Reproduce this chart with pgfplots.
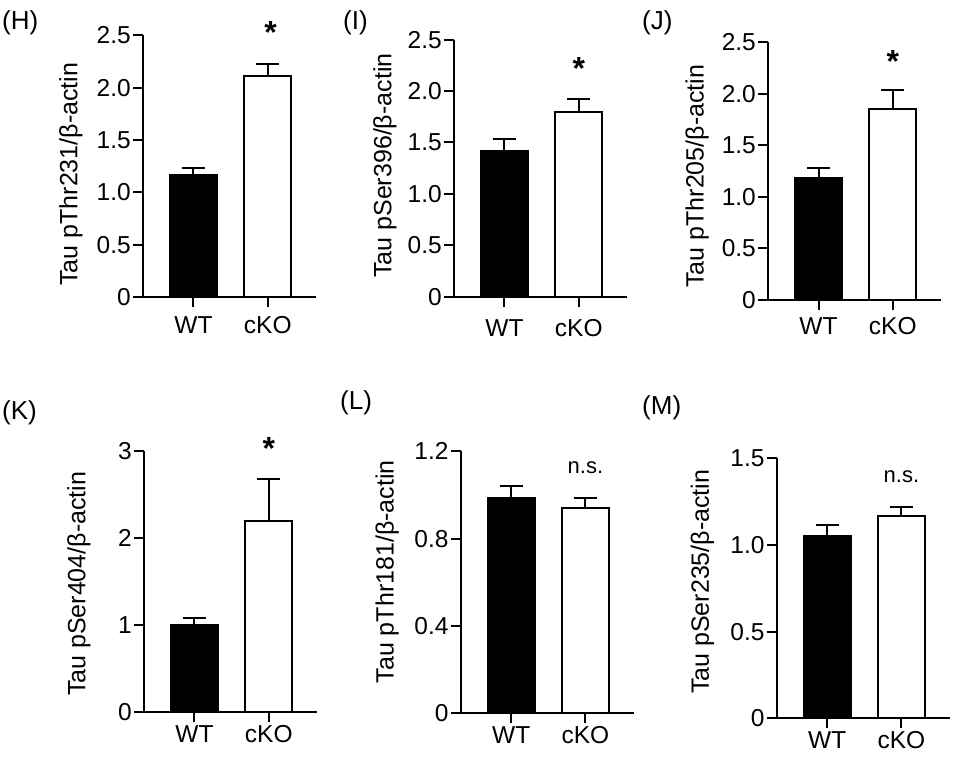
\documentclass[border=0pt]{standalone}
\usepackage{fontspec}
\setmainfont{Liberation Sans}
\usepackage{pgfplots}
\pgfplotsset{compat=1.18}
\pgfplotsset{
  panel/.style={
    scale only axis, width=173pt,
    xmin=-0.68, xmax=1.65, ymin=0,
    axis x line*=bottom, axis y line*=left,
    axis line style={-, line width=2pt, black},
    tick align=outside, major tick length=10pt,
    every tick/.style={black, line width=2pt},
    xtick={0,1}, xticklabels={WT,cKO},
    tick label style={font=\fontsize{24.5}{28}\selectfont},
    yticklabel style={inner sep=2pt},
    label style={font=\fontsize{25}{29}\selectfont},
    ylabel style={anchor=center},
    clip=false,
  },
  wt/.style={ybar, bar shift=0pt, bar width=47pt, fill=black, draw=black, line width=2pt,
    error bars/.cd, y dir=plus, y explicit,
    error bar style={line width=2pt, black},
    error mark options={rotate=90, mark size=11.5pt, line width=2pt, black}},
  ko/.style={ybar, bar shift=0pt, bar width=47pt, fill=white, draw=black, line width=2pt,
    error bars/.cd, y dir=plus, y explicit,
    error bar style={line width=2pt, black},
    error mark options={rotate=90, mark size=11.5pt, line width=2pt, black}},
}
\newcommand{\sigstar}{\fontsize{32}{36}\selectfont\bfseries *}
\newcommand{\ns}{\fontsize{22}{26}\selectfont n.s.}
\newcommand{\plab}{\fontsize{26}{30}\selectfont}
\begin{document}
\begin{tikzpicture}
\useasboundingbox (0pt,0pt) rectangle (960pt,768pt);
% (H)
\begin{axis}[panel, at={(143pt,470.7pt)}, anchor=south west, height=262pt, ymax=2.5,
  ytick={0,0.5,1,1.5,2,2.5}, yticklabels={0,0.5,1.0,1.5,2.0,2.5},
  ylabel={Tau pThr231/β-actin}, ylabel style={at={(axis description cs:-0.416,0.47)}},
  xticklabel style={yshift=-6pt}]
\addplot[wt] coordinates {(0,1.17) +- (0,0.06)};
\addplot[ko] coordinates {(1,2.11) +- (0,0.12)};
\node[anchor=center] at (axis cs:1.04,2.53) {\sigstar};
\end{axis}
% (I)
\begin{axis}[panel, at={(454pt,471.3pt)}, anchor=south west, height=257pt, ymax=2.5,
  ytick={0,0.5,1,1.5,2,2.5}, yticklabels={0,0.5,1.0,1.5,2.0,2.5},
  ylabel={Tau pSer396/β-actin}, ylabel style={at={(axis description cs:-0.40,0.51)}},
  xticklabel style={yshift=-9pt}]
\addplot[wt] coordinates {(0,1.42) +- (0,0.11)};
\addplot[ko] coordinates {(1,1.80) +- (0,0.12)};
\node[anchor=center] at (axis cs:1,2.22) {\sigstar};
\end{axis}
% (J)
\begin{axis}[panel, at={(768pt,468pt)}, anchor=south west, height=258pt, ymax=2.5,
  ytick={0,0.5,1,1.5,2,2.5}, yticklabels={0,0.5,1.0,1.5,2.0,2.5},
  ylabel={Tau pThr205/β-actin}, ylabel style={at={(axis description cs:-0.41,0.48)}},
  xticklabel style={yshift=-4pt}]
\addplot[wt] coordinates {(0,1.18) +- (0,0.10)};
\addplot[ko] coordinates {(1,1.85) +- (0,0.18)};
\node[anchor=center] at (axis cs:1,2.31) {\sigstar};
\end{axis}
% (K)
\begin{axis}[panel, at={(144pt,56.3pt)}, anchor=south west, height=261pt, ymax=3,
  ytick={0,1,2,3}, yticklabels={0,1,2,3},
  ylabel={Tau pSer404/β-actin}, ylabel style={at={(axis description cs:-0.376,0.49)}},
  xticklabel style={yshift=0pt}]
\addplot[wt] coordinates {(0,1.00) +- (0,0.08)};
\addplot[ko] coordinates {(1,2.19) +- (0,0.485)};
\node[anchor=center] at (axis cs:1,3.03) {\sigstar};
\end{axis}
% (L)
\begin{axis}[panel, at={(460.7pt,54.7pt)}, anchor=south west, height=262pt, ymax=1.2,
  ytick={0,0.4,0.8,1.2}, yticklabels={0,0.4,0.8,1.2},
  ylabel={Tau pThr181/β-actin}, ylabel style={at={(axis description cs:-0.425,0.54)}},
  xticklabel style={yshift=0pt}]
\addplot[wt] coordinates {(0,0.986) +- (0,0.054)};
\addplot[ko] coordinates {(1,0.939) +- (0,0.047)};
\node[anchor=center] at (axis cs:1,1.125) {\ns};
\end{axis}
% (M)
\begin{axis}[panel, at={(776.7pt,49.7pt)}, anchor=south west, height=260pt, ymax=1.5,
  ytick={0,0.5,1,1.5}, yticklabels={0,0.5,1.0,1.5},
  ylabel={Tau pSer235/β-actin}, ylabel style={at={(axis description cs:-0.43,0.525)}},
  xticklabel style={yshift=0pt}]
\addplot[wt] coordinates {(0,1.052) +- (0,0.063)};
\addplot[ko] coordinates {(1,1.167) +- (0,0.05)};
\node[anchor=center] at (axis cs:1,1.394) {\ns};
\end{axis}
% panel letters
\node[anchor=north west, inner sep=0pt] at (2pt,758pt) {\plab (H)};
\node[anchor=north west, inner sep=0pt] at (343pt,758pt) {\plab (I)};
\node[anchor=north west, inner sep=0pt] at (642pt,758pt) {\plab (J)};
\node[anchor=north west, inner sep=0pt] at (2pt,368pt) {\plab (K)};
\node[anchor=north west, inner sep=0pt] at (340pt,378pt) {\plab (L)};
\node[anchor=north west, inner sep=0pt] at (642pt,373pt) {\plab (M)};
\end{tikzpicture}
\end{document}
